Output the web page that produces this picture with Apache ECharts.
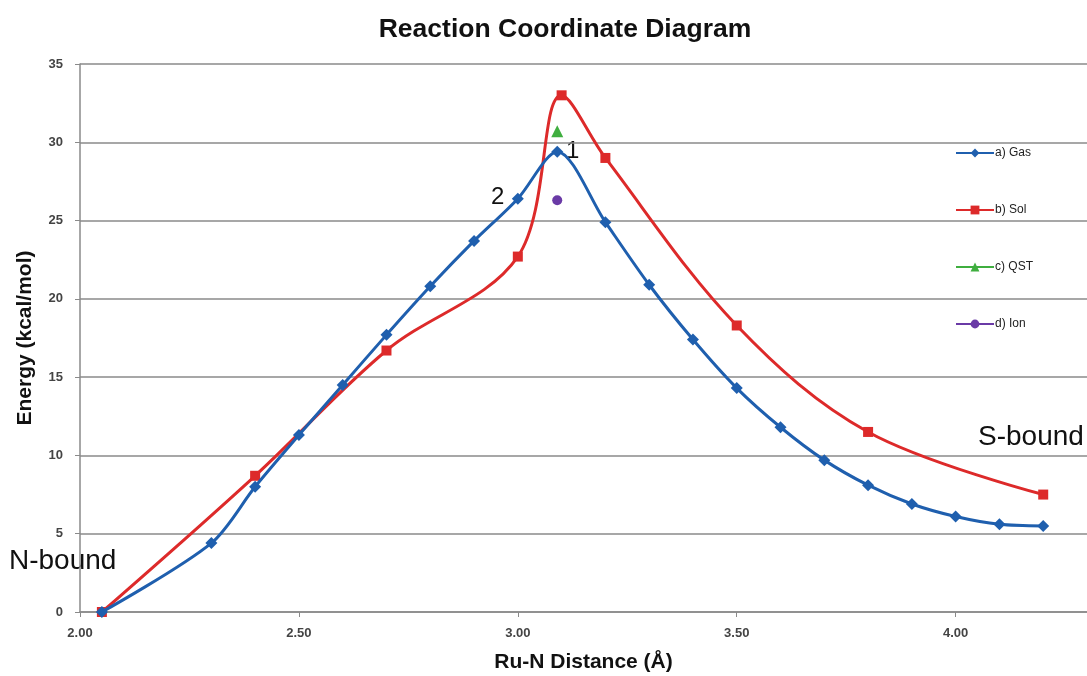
<!DOCTYPE html>
<html>
<head>
<meta charset="utf-8">
<script src="https://cdn.jsdelivr.net/npm/echarts@6/dist/echarts.min.js"></script>
<style>
  html, body { margin: 0; padding: 0; background: #fff; }
  #myChart { width: 1087px; height: 676px; }
</style>
</head>
<body>
<div id="myChart"></div>
<script>
// data
var gasX = [2.05, 2.30, 2.40, 2.50, 2.60, 2.70, 2.80, 2.90, 3.00, 3.09, 3.20, 3.30, 3.40, 3.50, 3.60, 3.70, 3.80, 3.90, 4.00, 4.10, 4.20];
var gasY = [0, 4.4, 8.0, 11.3, 14.5, 17.7, 20.8, 23.7, 26.4, 29.4, 24.9, 20.9, 17.4, 14.3, 11.8, 9.7, 8.1, 6.9, 6.1, 5.6, 5.5];
var solX = [2.05, 2.40, 2.70, 3.00, 3.10, 3.20, 3.50, 3.80, 4.20];
var solY = [0, 8.7, 16.7, 22.7, 33.0, 29.0, 18.3, 11.5, 7.5];
var qstX = [3.09];
var qstY = [30.7];
var ionX = [3.09];
var ionY = [26.3];

function pairs(xs, ys) {
  return xs.map(function (x, i) { return [x, ys[i]]; });
}

var font = "'Liberation Sans', Arial, sans-serif";

var option = {
  animation: false,
  backgroundColor: "#fff",
  title: {
    text: "Reaction Coordinate Diagram",
    left: 560,
    top: 11,
    textAlign: "center",
    textStyle: { fontFamily: font, fontSize: 26.5, fontWeight: "bold", color: "#111" },
  },
  legend: {
    orient: "vertical",
    left: 950,
    top: 142,
    itemGap: 45,
    itemWidth: 38,
    itemHeight: 11,
    textStyle: { fontFamily: font, fontSize: 12, color: "#222", padding: [0, 0, 0, -4] },
    data: ["a) Gas", "b) Sol", "c) QST", "d) Ion"],
  },
  grid: { left: 80, right: 0, top: 64, bottom: 64, outerBoundsMode: "none" },
  xAxis: {
    type: "value",
    min: 2,
    max: 4.3,
    interval: 0.5,
    name: "Ru-N Distance (Å)",
    nameLocation: "middle",
    nameGap: 40,
    nameTextStyle: { fontFamily: font, fontSize: 21, fontWeight: "bold", color: "#111" },
    axisLine: { lineStyle: { color: "#8a8a8a", width: 1.5 } },
    axisTick: { show: true, length: 5, lineStyle: { color: "#8a8a8a" } },
    axisLabel: {
      showMaxLabel: false,
      margin: 15,
      fontFamily: font,
      fontSize: 13,
      fontWeight: "bold",
      color: "#444",
      formatter: function (v) { return v.toFixed(2); },
    },
    splitLine: { show: false },
  },
  yAxis: {
    type: "value",
    min: 0,
    max: 35,
    interval: 5,
    name: "Energy (kcal/mol)",
    nameLocation: "middle",
    nameGap: 44,
    nameTextStyle: { fontFamily: font, fontSize: 21, fontWeight: "bold", color: "#111" },
    axisLine: { show: true, lineStyle: { color: "#8a8a8a", width: 1.5 } },
    axisTick: { show: true, length: 5, lineStyle: { color: "#8a8a8a" } },
    axisLabel: { margin: 17, fontFamily: font, fontSize: 13, fontWeight: "bold", color: "#444" },
    splitLine: { lineStyle: { color: "#8a8a8a", width: 1.5 } },
  },
  series: [
    {
      name: "a) Gas",
      type: "line",
      smooth: 0.3,
      symbol: "diamond",
      symbolSize: 12,
      color: "#1f5fae",
      lineStyle: { width: 3 },
      data: pairs(gasX, gasY),
      z: 3,
    },
    {
      name: "b) Sol",
      type: "line",
      smooth: 0.35,
      symbol: "rect",
      symbolSize: 10,
      color: "#dd2a2a",
      lineStyle: { width: 3 },
      data: pairs(solX, solY),
      z: 2,
    },
    {
      name: "c) QST",
      type: "line",
      symbol: "triangle",
      symbolSize: 12,
      color: "#3fae3f",
      lineStyle: { width: 3 },
      data: pairs(qstX, qstY),
      z: 4,
    },
    {
      name: "d) Ion",
      type: "line",
      symbol: "circle",
      symbolSize: 10,
      color: "#6a3aa6",
      lineStyle: { width: 3 },
      data: pairs(ionX, ionY),
      z: 4,
    },
  ],
  graphic: [
    { type: "text", left: 9, top: 547, style: { text: "N-bound", font: "28px " + font, fill: "#111" } },
    { type: "text", left: 978, top: 423, style: { text: "S-bound", font: "28px " + font, fill: "#111" } },
    { type: "text", left: 566, top: 139, style: { text: "1", font: "24px " + font, fill: "#111" } },
    { type: "text", left: 491, top: 185, style: { text: "2", font: "24px " + font, fill: "#111" } },
  ],
};

var myChart = echarts.init(document.getElementById("myChart"));
myChart.setOption(option);
</script>
</body>
</html>
